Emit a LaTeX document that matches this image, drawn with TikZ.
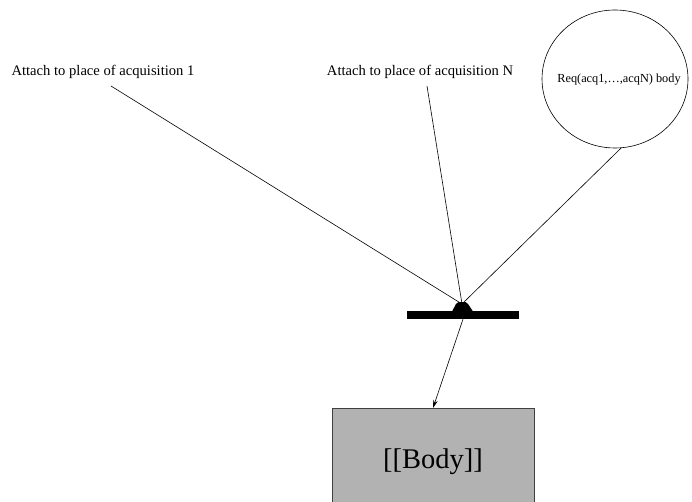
\documentclass[tikz,border=0pt]{standalone}
\usepackage{fontspec}
\setmainfont{Liberation Serif}
\usetikzlibrary{shapes.geometric,arrows.meta}
\begin{document}
\begin{tikzpicture}[x=1pt,y=-1pt,
  label/.style={inner sep=0pt,font=\fontsize{14.6}{16}\selectfont},
  place/.style={ellipse,draw,line width=0.6pt,minimum width=146pt,minimum height=138pt,inner sep=0pt},
  transition/.style={fill=black,inner sep=0pt,minimum width=112pt,minimum height=8pt},
  bodybox/.style={draw=black!75,fill=black!30,line width=0.8pt,minimum width=202pt,minimum height=120pt,inner sep=0pt},
  arc/.style={line width=0.6pt},
  flow/.style={line width=0.6pt,-{Stealth[length=8pt,width=4.5pt]}}]
  \useasboundingbox (0,0) rectangle (692,502);
  \clip (0,0) rectangle (692,502);

  % input labels and the place holding the request
  \node[label] (l1) at (103,72) {Attach to place of acquisition 1};
  \node[label] (lN) at (420,72) {Attach to place of acquisition N};
  \node[place] (req) at (615,79) {};
  \node[inner sep=0pt,font=\fontsize{12.3}{13}\selectfont] (reqtext) at (619,80) {Req(acq1,\dots,acqN) body};

  % transition bar with its small join point
  \node[transition] (bar) at (463,315) {};
  \fill (452,311.5) -- (456,304) .. controls (458,302) .. (462,302)
        .. controls (466,302) .. (468,304) -- (473,311.5) -- cycle;
  \coordinate (j) at (462,304);

  % body of the action
  \node[bodybox,anchor=north] (body) at (433,408) {};
  \node[inner sep=0pt,font=\fontsize{28.5}{30}\selectfont] (bodytext) at (433,462) {[[Body]]};

  % arcs into the transition
  \coordinate (s1) at (111,86);
  \coordinate (sN) at (427,86);
  \draw[arc] (s1) -- (j);
  \draw[arc] (sN) -- (j);
  \draw[arc] (req.-85) -- (j);

  % output arc
  \draw[flow] (bar.south) -- (body.north);
\end{tikzpicture}
\end{document}
